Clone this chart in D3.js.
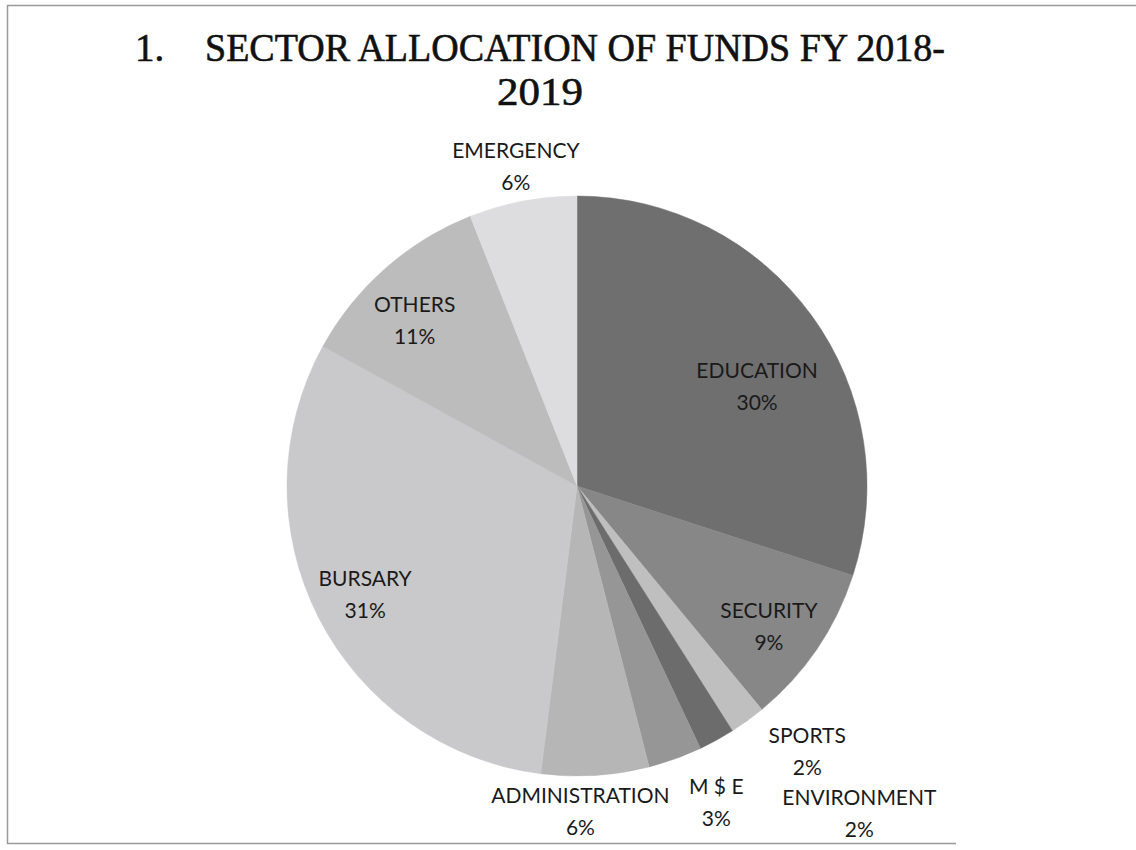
<!DOCTYPE html>
<html><head><meta charset="utf-8">
<script src="https://cdn.jsdelivr.net/npm/d3@7"></script>
<style>html,body{margin:0;padding:0;background:#fff;}</style>
</head><body>
<svg id="chart" width="1136" height="850"></svg>
<script>
// ---- data ----
const categories = ["EDUCATION","SECURITY","SPORTS","ENVIRONMENT","M $ E","ADMINISTRATION","BURSARY","OTHERS","EMERGENCY"];
const values = [30, 9, 2, 2, 3, 6, 31, 11, 6];
const percentLabels = ["30%","9%","2%","2%","3%","6%","31%","11%","6%"];
const titleLines = ["SECTOR ALLOCATION OF FUNDS FY 2018-", "2019"];

// ---- layout / style ----
const W = 1136, H = 850;
const cx = 577, cy = 486, R = 290;
const colors = ["#6f6f6f","#878787","#bfbfbf","#6c6c6c","#969696","#b6b6b6","#c9c9cb","#bcbcbc","#dddddf"];
// label radius (fraction of R) and angle offset (deg) per slice
const labelR = [0.71, 0.82, 1.21, 1.49, 1.19, 1.12, 0.82, 0.80, 1.125];
const labelDA = [7, 2, -5, -12, -4, 3, 0, -3, 0];

const svg = d3.select("#chart");

// frame
svg.append("path")
  .attr("d", `M ${W} 5.5 L 7.5 5.5 L 7.5 843.5 L ${W-180} 843.5`)
  .attr("fill","none").attr("stroke","#9a9a9a").attr("stroke-width",1.5);

// title
const title = svg.append("g").attr("font-family","'Liberation Serif','DejaVu Serif',serif")
  .attr("fill","#111").attr("stroke","#111").attr("stroke-width",0.6).attr("font-size",39);
title.append("text").attr("x",135).attr("y",61).text("1.");
title.append("text").attr("x",205).attr("y",61)
  .attr("textLength",740).attr("lengthAdjust","spacingAndGlyphs").text(titleLines[0]);
title.append("text").attr("x",540).attr("y",105).attr("text-anchor","middle")
  .attr("textLength",86).attr("lengthAdjust","spacingAndGlyphs").text(titleLines[1]);

// pie
const data = categories.map((c,i)=>({cat:c, value:values[i], pct:percentLabels[i], i}));
const pie = d3.pie().value(d=>d.value).sort(null);
const arcs = pie(data);
const arc = d3.arc().innerRadius(0).outerRadius(R);

const g = svg.append("g").attr("transform",`translate(${cx},${cy})`);
g.selectAll("path").data(arcs).join("path")
  .attr("d",arc).attr("fill",d=>colors[d.data.i]).attr("stroke",d=>colors[d.data.i]).attr("stroke-width",0.5);

// labels
const lab = g.selectAll("g.lab").data(arcs).join("g").attr("class","lab")
  .attr("transform",d=>{
    const a = (d.startAngle+d.endAngle)/2 + labelDA[d.data.i]*Math.PI/180;
    const rr = labelR[d.data.i]*R;
    return `translate(${rr*Math.sin(a)},${-rr*Math.cos(a)})`;
  });
lab.append("text").attr("text-anchor","middle").attr("y",-8)
  .attr("font-family","Lato,'Open Sans',sans-serif").attr("font-size",21).attr("fill","#1a1a1a")
  .text(d=>d.data.cat);
lab.append("text").attr("text-anchor","middle").attr("y",24)
  .attr("font-family","Lato,'Open Sans',sans-serif").attr("font-size",21).attr("fill","#1a1a1a")
  .text(d=>d.data.pct);
</script>
</body></html>
